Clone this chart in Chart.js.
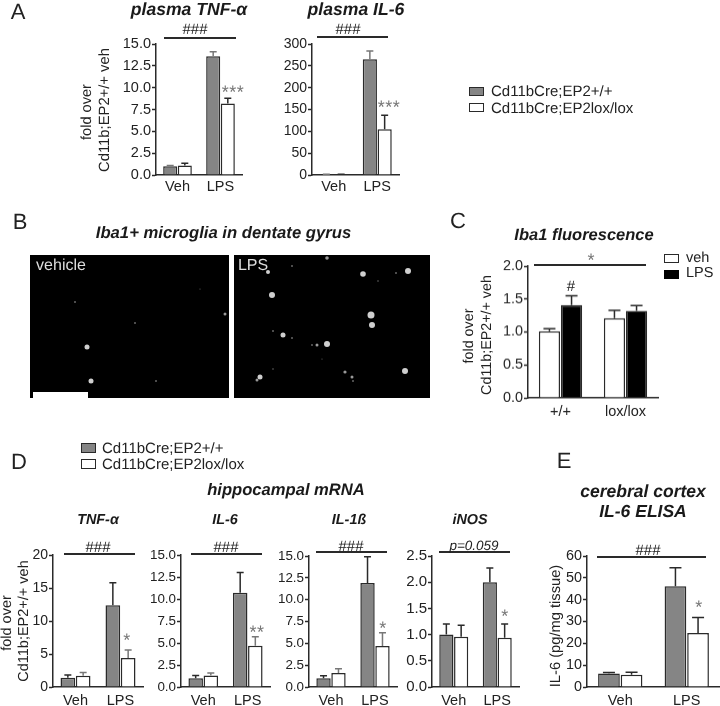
<!DOCTYPE html>
<html>
<head>
<meta charset="utf-8">
<script src="https://cdn.jsdelivr.net/npm/chart.js@4"></script>
<style>
html, body { margin: 0; padding: 0; background: #fff; }
#page { position: relative; width: 720px; height: 706px; overflow: hidden; font-family: "Liberation Sans", Arial, sans-serif; color: #222; text-rendering: geometricPrecision; filter: blur(0.35px); }
#page canvas { position: absolute; }
.t { position: absolute; white-space: nowrap; transform: translate(-50%, -50%); }
.box { position: absolute; box-sizing: border-box; }
</style>
</head>
<body>
<div id="page"></div>
<script>
// categories
const groups = ['Veh', 'LPS'];
const groupsC = ['+/+', 'lox/lox'];
const wtName = 'Cd11bCre;EP2+/+';
const koName = 'Cd11bCre;EP2lox/lox';

// tick labels
const ticks15 = [0, 2.5, 5, 7.5, 10, 12.5, 15];
const ticks300 = [0, 50, 100, 150, 200, 250, 300];
const ticksC = [0, 0.5, 1, 1.5, 2];
const ticks20 = [0, 5, 10, 15, 20];
const ticksNos = [0, 0.5, 1, 1.5, 2, 2.5];
const ticksElisa = [0, 10, 20, 30, 40, 50, 60];

// series values, and the top of each error bar
const plasmaTnfWt = [1.0, 13.6], plasmaTnfWtTop = [1.1, 14.1];
const plasmaTnfKo = [1.1, 8.2], plasmaTnfKoTop = [1.35, 8.8];
const plasmaIl6Wt = [1, 265], plasmaIl6WtTop = [1.5, 284];
const plasmaIl6Ko = [1, 105], plasmaIl6KoTop = [1.5, 137];
const ibaVeh = [1.01, 1.21], ibaVehTop = [1.05, 1.33];
const ibaLps = [1.41, 1.32], ibaLpsTop = [1.55, 1.40];
const hipTnfWt = [1.4, 12.4], hipTnfWtTop = [1.8, 15.8];
const hipTnfKo = [1.7, 4.4], hipTnfKoTop = [2.2, 5.6];
const hipIl6Wt = [1.0, 10.7], hipIl6WtTop = [1.3, 13.0];
const hipIl6Ko = [1.3, 4.7], hipIl6KoTop = [1.6, 5.7];
const hipIl1Wt = [1.0, 11.9], hipIl1WtTop = [1.3, 14.9];
const hipIl1Ko = [1.6, 4.7], hipIl1KoTop = [2.1, 6.2];
const hipNosWt = [1.0, 2.0], hipNosWtTop = [1.2, 2.27];
const hipNosKo = [0.96, 0.94], hipNosKoTop = [1.18, 1.2];
const elisaWt = [6.2, 46.2], elisaWtTop = [6.6, 54.6];
const elisaKo = [5.6, 24.7], elisaKoTop = [6.8, 31.8];

// microglia spots in the two micrographs: x, y, radius
const vehicleSpots = [[45, 47, 1], [105, 68, 1], [195, 59, 1.5], [57, 92, 2.5], [61, 126, 2.5], [126, 126, 1], [170, 34, 0.6]];
const lpsSpots = [[93, 3, 1.8], [58, 11, 1], [34, 17, 2], [38, 40, 3], [129, 19, 2.8], [162, 18, 1], [174, 16, 3],
    [144, 26, 0.8], [137, 60, 3.5], [138, 70, 3], [49, 80, 2.5], [39, 76, 1], [58, 83, 1], [93, 89, 3], [83, 90, 1.5],
    [78, 90, 1], [171, 116, 3], [111, 117, 1.6], [118, 122, 1.5], [119, 126, 1], [26, 122, 2.5], [23, 125, 1.5],
    [39, 114, 0.8], [88, 104, 0.6]];

const page = document.getElementById('page');
const GREY = '#858585', DARK = '#2a2a2a', STAR = '#777';
const SERIF = '"Liberation Serif", serif';

function put(html, x, y, size, extra) {
    const d = document.createElement('div');
    d.className = 't';
    d.innerHTML = html;
    d.style.left = x + 'px';
    d.style.top = y + 'px';
    d.style.fontSize = size + 'px';
    d.style.lineHeight = size + 'px';
    Object.assign(d.style, extra || {});
    page.appendChild(d);
    return d;
}
function bold(html, x, y, size) {
    return put(html, x, y, size, { fontWeight: 'bold', fontStyle: 'italic', color: '#1a1a1a' });
}
function vert(text, x, y, size) {
    return put(text, x, y, size, { transform: 'translate(-50%, -50%) rotate(-90deg)' });
}
function leftText(text, x, y, size) {
    return put(text, x, y, size, { transform: 'translateY(-50%)' });
}
function rect(x, y, w, h, fill, border) {
    const d = document.createElement('div');
    d.className = 'box';
    d.style.cssText = 'left:' + x + 'px;top:' + y + 'px;width:' + w + 'px;height:' + h + 'px;background:' + fill + ';' +
        (border ? 'border:1.5px solid ' + border + ';' : '');
    page.appendChild(d);
}
// significance line with its mark above
function bracket(x1, x2, y, mark, mx, my, size, extra) {
    rect(x1, y - 0.75, x2 - x1, 1.5, DARK);
    put(mark, mx, my, size, extra);
}
function star(mark, x, y) {
    put(mark, x, y, 18, { color: STAR, letterSpacing: '0.5px' });
}

const errorBars = {
    id: 'errorBars',
    afterDatasetsDraw(chart) {
        const ctx = chart.ctx, yScale = chart.scales.y;
        chart.data.datasets.forEach((ds, i) => {
            chart.getDatasetMeta(i).data.forEach((bar, j) => {
                const top = yScale.getPixelForValue(ds.errTop[j]);
                const half = ds.capW / 2;
                ctx.save();
                ctx.strokeStyle = ds.errColor;
                ctx.lineWidth = 1.5;
                ctx.beginPath();
                ctx.moveTo(bar.x, bar.y);
                ctx.lineTo(bar.x, top);
                ctx.moveTo(bar.x - half, top);
                ctx.lineTo(bar.x + half, top);
                ctx.stroke();
                ctx.restore();
            });
        });
    }
};

// one bar panel; box holds the plot area in page pixels
function barPanel(box, cats, tickVals, decimals, tickSize, xGap, first, second) {
    const M = 48, T = 12, R = 2, B = 24;
    const c = document.createElement('canvas');
    const w = box.right - box.left + M + R, h = box.bottom - box.top + T + B;
    c.width = w;
    c.height = h;
    c.style.left = (box.left - M) + 'px';
    c.style.top = (box.top - T) + 'px';
    c.style.width = w + 'px';
    c.style.height = h + 'px';
    page.appendChild(c);
    const mk = s => Object.assign({ borderColor: DARK, borderWidth: 1.5, categoryPercentage: 0.68, barPercentage: 0.96 }, s);
    return new Chart(c, {
        type: 'bar',
        data: { labels: cats, datasets: [mk(first), mk(second)] },
        plugins: [errorBars],
        options: {
            responsive: false,
            animation: false,
            devicePixelRatio: 1,
            layout: { autoPadding: false, padding: { top: T, right: R, left: 0, bottom: 0 } },
            plugins: { legend: { display: false }, tooltip: { enabled: false } },
            scales: {
                x: {
                    grid: { display: false, drawTicks: false, tickLength: 0 },
                    border: { color: DARK, width: 1.5 },
                    ticks: { color: '#222', padding: xGap, maxRotation: 0, autoSkip: false,
                        font: { family: 'Liberation Sans', size: 14.5 } },
                    afterFit: s => { s.height = B; }
                },
                y: {
                    min: 0,
                    max: tickVals[tickVals.length - 1],
                    grid: { drawOnChartArea: false, tickLength: 4, tickColor: DARK, tickWidth: 1.5 },
                    border: { color: DARK, width: 1.5 },
                    ticks: { color: '#222', padding: 1, autoSkip: false,
                        font: { family: 'Liberation Sans', size: tickSize },
                        callback: v => v.toFixed(decimals) },
                    afterBuildTicks: s => { s.ticks = tickVals.map(v => ({ value: v })); },
                    afterFit: s => { s.width = M; }
                }
            }
        }
    });
}
function grey(data, errTop, capW, errColor) {
    return { data, errTop, capW, errColor: errColor || DARK, backgroundColor: GREY };
}
function white(data, errTop, capW, errColor) {
    return { data, errTop, capW, errColor: errColor || DARK, backgroundColor: '#fff' };
}

// micrograph drawn as a bubble chart over a black plot
function micrograph(x, y, w, h, spots) {
    const c = document.createElement('canvas');
    c.width = w;
    c.height = h;
    c.style.cssText = 'left:' + x + 'px;top:' + y + 'px;width:' + w + 'px;height:' + h + 'px;background:#000;filter:blur(0.6px);';
    page.appendChild(c);
    return new Chart(c, {
        type: 'bubble',
        data: { datasets: [{
            data: spots.map(p => ({ x: p[0], y: p[1], r: p[2] })),
            backgroundColor: ctx => ctx.raw.r < 1.2 ? '#666' : (ctx.raw.r < 2 ? '#999' : '#cfcfcf'),
            borderWidth: 0
        }] },
        options: {
            responsive: false,
            animation: false,
            devicePixelRatio: 1,
            layout: { autoPadding: false },
            plugins: { legend: { display: false }, tooltip: { enabled: false } },
            scales: {
                x: { display: false, min: 0, max: w },
                y: { display: false, min: 0, max: h, reverse: true }
            }
        }
    });
}

// panel letters
put('A', 18, 12, 22);
put('B', 20, 222, 22);
put('C', 458, 221, 22);
put('D', 19, 462, 22);
put('E', 564, 461, 22);

// A
bold('plasma TNF-<span style="font-family:' + SERIF + ';font-style:normal;font-weight:normal;font-size:19px">α</span>', 189, 10, 17.6);
bold('plasma IL-6', 356, 10, 17.6);
vert('fold over', 87, 112, 14.6);
vert('Cd11b;EP2+/+ veh', 105, 110, 14.8);
barPanel({ left: 156, right: 242, top: 44, bottom: 175 }, groups, ticks15, 1, 14.5, 3,
    grey(plasmaTnfWt, plasmaTnfWtTop, 7, '#777'), white(plasmaTnfKo, plasmaTnfKoTop, 7));
barPanel({ left: 312, right: 399, top: 44, bottom: 175 }, groups, ticks300, 0, 14, 3,
    grey(plasmaIl6Wt, plasmaIl6WtTop, 7, '#777'), white(plasmaIl6Ko, plasmaIl6KoTop, 7));
bracket(164, 236, 38, '###', 195, 29, 15);
bracket(317, 388, 37, '###', 348, 29, 15);
star('***', 233, 92);
star('***', 389, 107);
rect(469, 87, 15, 9, GREY, DARK);
rect(469, 103, 15, 9, '#fff', DARK);
leftText(wtName, 491, 91, 15);
leftText(koName, 491, 108, 15);

// B
bold('Iba1+ microglia in dentate gyrus', 223.5, 233, 16.7);
micrograph(30, 255, 199, 143, vehicleSpots);
micrograph(234, 255, 196, 143, lpsSpots);
rect(33, 392, 55, 5.5, '#fff');
put('vehicle', 61, 266, 16, { color: '#ddd' });
put('LPS', 253, 266, 16, { color: '#ddd' });

// C
bold('Iba1 fluorescence', 584, 235, 16.5);
vert('fold over', 469, 336, 14.3);
vert('Cd11b;EP2+/+ veh', 487, 335, 14.3);
barPanel({ left: 527.5, right: 657.5, top: 266, bottom: 397.5 }, groupsC, ticksC, 1, 14.4, 5,
    white(ibaVeh, ibaVehTop, 12), { data: ibaLps, errTop: ibaLpsTop, capW: 12, errColor: DARK, backgroundColor: '#000' });
bracket(534, 646, 265, '*', 591, 260, 18, { color: STAR });
put('#', 571, 286, 15);
rect(664, 254, 15, 9, '#fff', DARK);
rect(664, 270, 15, 9, '#000', '#000');
leftText('veh', 686, 258, 14.5);
leftText('LPS', 686, 273, 14.5);

// D
rect(81, 443, 15, 10, GREY, DARK);
rect(81, 459, 15, 10, '#fff', DARK);
leftText(wtName, 102, 448, 15);
leftText(koName, 102, 464, 15);
bold('hippocampal mRNA', 286, 490, 16.6);
bold('TNF-<span style="font-family:' + SERIF + ';font-style:normal;font-weight:normal;font-size:16px">α</span>', 98, 520, 14.4);
bold('IL-6', 225, 520, 14.4);
bold('IL-1ß', 349, 520, 14.4);
bold('iNOS', 470, 520, 14.4);
vert('fold over', 7, 623, 14.5);
vert('Cd11b;EP2+/+ veh', 24, 621, 14.5);
barPanel({ left: 53, right: 143, top: 555, bottom: 687 }, groups, ticks20, 0, 14, 5,
    grey(hipTnfWt, hipTnfWtTop, 7), white(hipTnfKo, hipTnfKoTop, 7, '#777'));
barPanel({ left: 181, right: 270, top: 555, bottom: 687 }, groups, ticks15, 1, 13.4, 5,
    grey(hipIl6Wt, hipIl6WtTop, 7), white(hipIl6Ko, hipIl6KoTop, 7, '#777'));
barPanel({ left: 309, right: 397, top: 556, bottom: 687 }, groups, ticks15, 1, 13.4, 5,
    grey(hipIl1Wt, hipIl1WtTop, 7), white(hipIl1Ko, hipIl1KoTop, 7, '#777'));
barPanel({ left: 432, right: 519, top: 556, bottom: 687 }, groups, ticksNos, 1, 15, 5,
    grey(hipNosWt, hipNosWtTop, 7), white(hipNosKo, hipNosKoTop, 7));
bracket(64, 135, 554, '###', 98, 547, 15);
bracket(191, 262, 554, '###', 226, 547, 15);
bracket(316, 387, 552, '###', 351, 546, 15);
bracket(439, 510, 552, 'p=0.059', 474, 546, 13.5, { fontStyle: 'italic' });
star('*', 127, 640);
star('**', 257, 632);
star('*', 383, 628);
star('*', 505, 616);

// E
bold('cerebral cortex', 643, 492, 17.5);
bold('IL-6 ELISA', 643, 512, 17.5);
vert('IL-6 (pg/mg tissue)', 556, 626, 14.7);
barPanel({ left: 587, right: 720, top: 556, bottom: 687 }, groups, ticksElisa, 0, 14.4, 5,
    grey(elisaWt, elisaWtTop, 12), white(elisaKo, elisaKoTop, 12));
bracket(597, 706, 557, '###', 648, 550, 15);
star('*', 699, 607);
</script>
</body>
</html>
